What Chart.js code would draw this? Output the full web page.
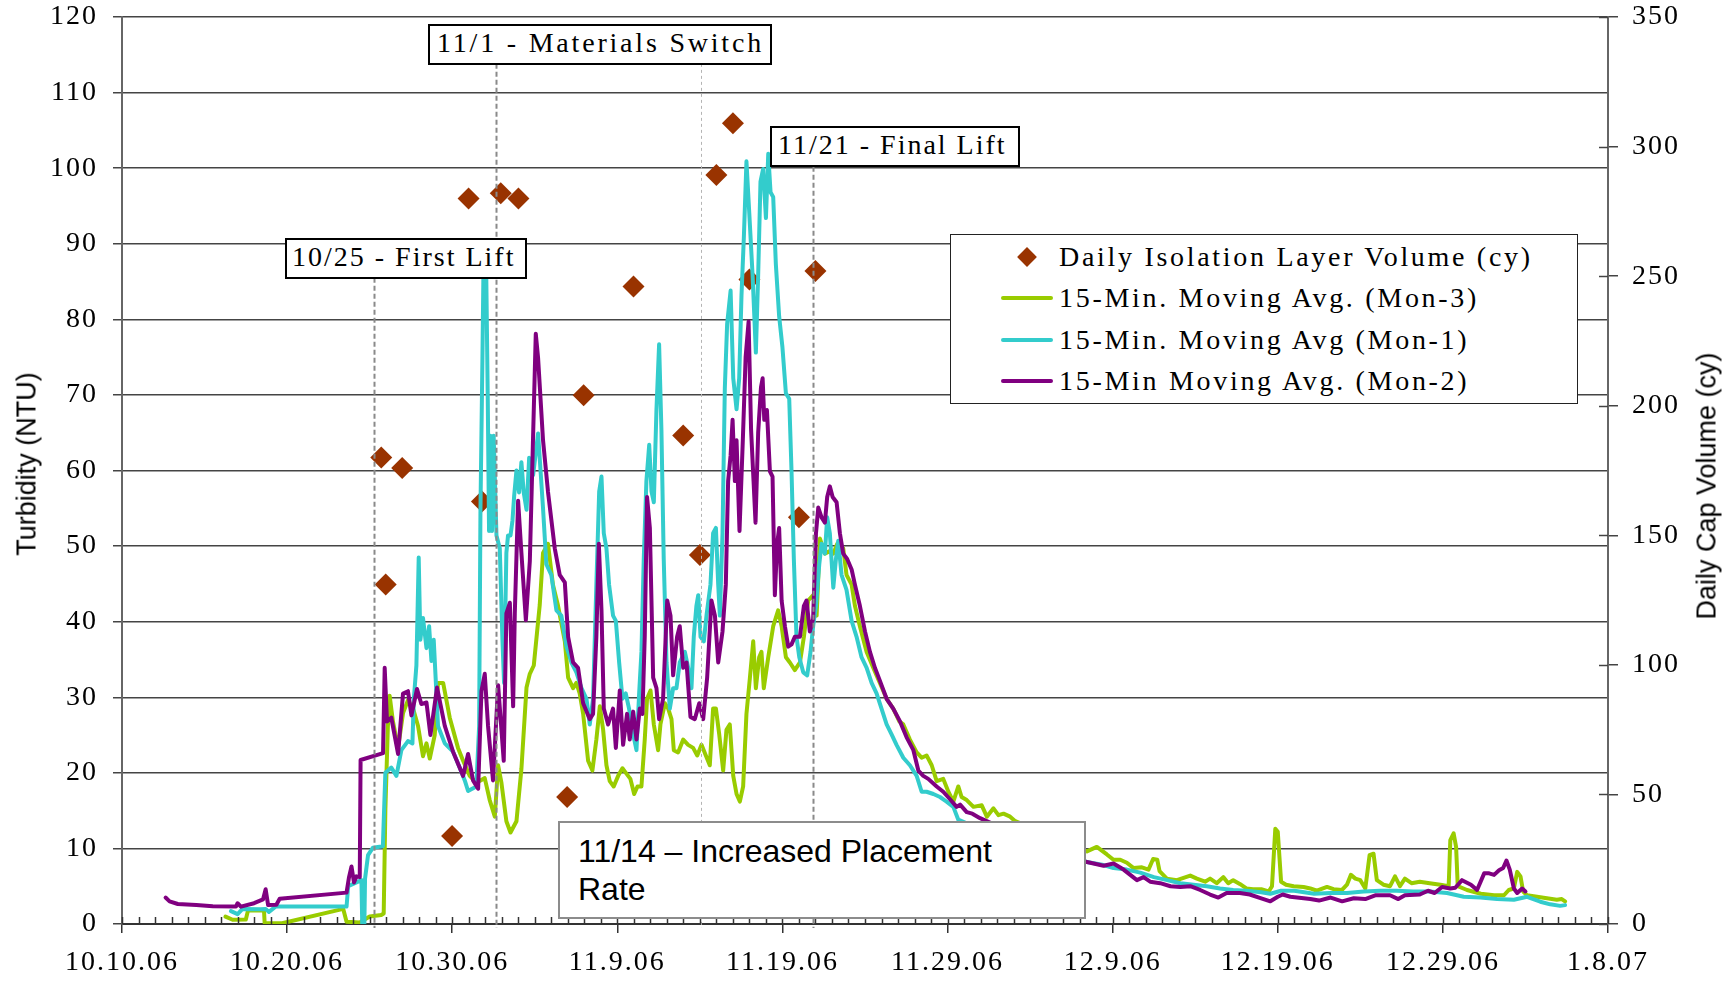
<!DOCTYPE html>
<html>
<head>
<meta charset="utf-8">
<script src="https://cdn.jsdelivr.net/npm/chart.js@4.4.1/dist/chart.umd.min.js"></script>
<style>
html,body{margin:0;padding:0;background:#fff;}
#wrap{position:relative;width:1734px;height:984px;overflow:hidden;background:#fff;}
#c{position:absolute;left:0;top:0;}
.serif{font-family:'Liberation Serif','Times New Roman',Times,serif;font-size:28px;letter-spacing:2px;color:#000;white-space:nowrap;}
.note{position:absolute;box-sizing:border-box;background:#fff;border:2px solid #000;height:41px;line-height:33px;padding-left:5px;}
#n4{position:absolute;box-sizing:border-box;left:558px;top:821px;width:528px;height:98px;background:#fff;border:2.5px solid #8c8c8c;font-family:'Liberation Sans',Arial,sans-serif;font-size:32px;line-height:38px;padding:9px 0 0 18px;color:#000;white-space:nowrap;}
#legend{position:absolute;box-sizing:border-box;left:950px;top:234px;width:628px;height:170px;background:#fff;border:1.5px solid #222;}
.lrow{position:absolute;left:0;height:40px;width:100%;}
.lsym{position:absolute;}
.ltxt{position:absolute;left:108px;top:0;line-height:40px;letter-spacing:2.7px;}
.ytitle{position:absolute;font-family:'Liberation Sans',Arial,sans-serif;font-size:27px;line-height:27px;white-space:nowrap;color:#000;transform:translate(-50%,-50%) rotate(-90deg);}
</style>
</head>
<body>
<div id="wrap">
<canvas id="c" width="1734" height="984"></canvas>
<div class="note serif" style="left:285px;top:238px;width:242px;">10/25 - First Lift</div>
<div class="note serif" style="left:428px;top:24px;width:344px;padding-left:7px;letter-spacing:2.8px;">11/1 - Materials Switch</div>
<div class="note serif" style="left:770px;top:126px;width:250px;padding-left:6px;">11/21 - Final Lift</div>
<div id="n4">11/14 – Increased Placement<br>Rate</div>
<div id="legend"></div>
<div class="ytitle" style="left:27px;top:464px;">Turbidity (NTU)</div>
<div class="ytitle" style="left:1707px;top:486px;">Daily Cap Volume (cy)</div>
</div>
<script>
// ---------- data ----------
const xTickLabels = ['10.10.06','10.20.06','10.30.06','11.9.06','11.19.06','11.29.06','12.9.06','12.19.06','12.29.06','1.8.07'];
const seriesNames = ['Daily Isolation Layer Volume (cy)','15-Min. Moving Avg. (Mon-3)','15-Min. Moving Avg (Mon-1)','15-Min Moving Avg. (Mon-2)'];

// x = days after 10/10/06, y = cubic yards (right axis)
const volume = [[15.70,180],[15.97,131],[16.97,176],[19.99,34],[20.99,280],[21.8,163],[22.94,282],[24.01,280],[26.96,49],[27.96,204],[30.98,246],[33.99,188.5],[35.0,142.4],[36.0,289],[37.0,309],[38.0,248.7],[41.0,157],[42.0,252]];

// x = days after 10/10/06, y = NTU (left axis)
const mon3 = [[6.27,0.97],[6.7,0.56],[7.5,0.6],[7.63,1.77],[8.6,1.77],[8.64,0.1],[9.7,0.1],[13.4,2.0],[13.6,0.3],[14.4,0.2],[15.0,1.0],[15.7,1.2],[15.85,1.4],[15.95,15],[16.1,26],[16.21,30.2],[16.41,26.8],[16.72,23.3],[17.02,27.9],[17.32,29.6],[17.63,28.5],[17.93,26.2],[18.23,22.2],[18.44,23.9],[18.64,21.9],[18.94,25.0],[19.14,31.9],[19.45,31.9],[19.85,27.3],[20.35,23.3],[20.66,21.6],[21.06,19.6],[21.46,18.7],[21.97,19.3],[22.27,16.4],[22.58,14.2],[22.78,21.0],[22.98,18.7],[23.28,13.6],[23.53,12.1],[23.89,13.6],[24.19,20.5],[24.5,31.3],[24.7,33.1],[24.94,34.2],[25.3,42.2],[25.5,49.1],[25.8,50.3],[26.1,44.9],[26.41,42.1],[26.82,37.4],[27.02,32.6],[27.32,31.2],[27.52,31.9],[27.72,30.5],[27.93,27.8],[28.23,21.6],[28.49,20.3],[28.73,24.4],[28.94,28.8],[29.14,25.7],[29.34,21.0],[29.54,18.9],[29.78,18.2],[30.05,19.6],[30.31,20.6],[30.55,19.9],[30.79,19.2],[31.02,17.2],[31.22,18.2],[31.46,18.2],[31.66,24.4],[31.8,29.8],[32.01,30.9],[32.21,26.4],[32.47,23.0],[32.61,26.4],[32.88,29.2],[33.08,28.5],[33.28,27.1],[33.42,23.0],[33.68,22.7],[33.99,24.4],[34.29,23.7],[34.59,23.3],[34.84,22.3],[35.1,23.7],[35.36,22.3],[35.6,21.0],[35.8,28.5],[35.97,28.5],[36.17,25.1],[36.41,20.3],[36.61,25.7],[36.81,26.4],[37.02,19.6],[37.22,17.2],[37.42,16.2],[37.62,18.2],[37.82,27.8],[38.03,32.6],[38.23,37.4],[38.39,31.2],[38.59,35.3],[38.73,36.0],[38.87,31.2],[39.14,35.3],[39.44,39.4],[39.74,41.5],[39.95,39.4],[40.21,35.3],[40.45,34.6],[40.75,33.6],[41.06,34.6],[41.3,38.0],[41.56,42.8],[41.86,43.5],[42.07,40.8],[42.27,51.0],[42.57,49.0],[42.83,49.3],[43.08,49.0],[43.32,50.3],[43.68,49.7],[43.88,46.2],[44.19,44.9],[44.39,42.1],[44.69,39.4],[45.1,36.0],[45.5,33.9],[45.9,31.9],[46.31,29.8],[46.71,28.5],[47.08,26.8],[47.32,26.4],[47.72,24.4],[48.13,22.7],[48.43,22.0],[48.73,22.3],[49.04,21.0],[49.34,18.9],[49.74,19.2],[50.05,17.5],[50.35,16.2],[50.65,18.2],[50.85,16.8],[51.16,16.4],[51.57,15.5],[52.07,15.7],[52.38,14.2],[52.78,15.3],[53.08,14.4],[53.39,14.6],[53.79,14.2],[54.1,13.6],[55.0,12.8],[56.0,11.8],[57.0,11.0],[58.0,10.0],[58.44,9.6],[59.04,10.2],[59.65,9.2],[60.05,8.5],[60.46,8.5],[60.86,8.1],[61.27,7.4],[61.77,7.5],[62.17,7.2],[62.45,8.6],[62.7,8.5],[62.84,7.0],[63.28,6.0],[63.89,5.8],[64.7,6.4],[65.1,6.0],[65.6,5.6],[65.9,6.0],[66.3,5.4],[66.7,6.2],[67.0,5.4],[67.3,5.8],[67.7,5.3],[68.1,4.7],[68.5,4.6],[69.0,4.6],[69.45,4.3],[69.65,5.0],[69.85,12.6],[70.0,12.2],[70.2,5.6],[70.5,5.2],[70.96,5.0],[71.56,4.9],[71.97,4.7],[72.37,4.4],[72.98,4.9],[73.38,4.6],[73.89,4.5],[74.19,5.2],[74.43,6.5],[74.7,6.0],[75.0,5.8],[75.3,4.7],[75.56,9.1],[75.8,9.3],[76.0,5.8],[76.4,5.2],[76.8,5.0],[77.1,6.3],[77.4,5.0],[77.7,6.0],[78.1,5.4],[78.6,5.6],[79.2,5.4],[79.85,5.2],[80.35,5.0],[80.45,11.1],[80.65,12.0],[80.8,10.2],[80.9,5.0],[81.46,4.5],[82.3,4.0],[83.1,3.8],[83.7,3.8],[83.99,4.5],[84.3,4.7],[84.5,6.9],[84.7,6.3],[84.86,4.3],[85.1,3.8],[85.7,3.6],[86.3,3.4],[86.9,3.2],[87.2,3.3],[87.4,3.0]];

const mon1 = [[6.6,1.7],[7.0,1.3],[7.3,2.0],[8.4,1.95],[8.7,2.0],[8.9,1.6],[9.3,2.3],[13.6,2.3],[13.7,5.0],[14.4,5.7],[14.5,5.8],[14.55,0],[14.68,0],[14.72,6.0],[14.9,9.1],[15.2,10.1],[15.8,10.3],[15.95,20.0],[16.31,20.7],[16.62,19.6],[16.92,23.0],[17.32,24.2],[17.59,23.9],[17.67,29.6],[17.83,34.2],[17.97,48.5],[18.07,37.6],[18.23,40.5],[18.44,36.5],[18.6,39.4],[18.74,34.8],[18.88,37.6],[19.14,26.2],[19.55,23.9],[20.05,22.8],[20.45,20.7],[20.76,19.0],[20.96,17.6],[21.46,18.2],[21.63,26.2],[21.71,54.8],[21.83,74.9],[21.9,88],[22.05,88],[22.15,70],[22.23,52.0],[22.31,64.6],[22.41,52.0],[22.51,64.6],[22.68,51.4],[22.88,49.7],[23.04,37.6],[23.14,31.9],[23.28,49.1],[23.38,51.4],[23.53,51.4],[23.65,53.4],[23.75,56.6],[23.89,60.0],[24.05,57.1],[24.19,61.1],[24.33,57.1],[24.5,54.8],[24.66,61.7],[24.9,59.4],[25.2,64.9],[25.5,55.0],[25.7,47.6],[26.0,46.2],[26.31,41.5],[26.61,40.8],[26.92,36.7],[27.22,34.6],[27.52,33.3],[27.83,31.2],[28.13,29.8],[28.33,26.4],[28.53,29.8],[28.73,44.9],[28.9,57.2],[29.04,59.2],[29.18,51.7],[29.34,49.7],[29.5,44.9],[29.74,40.8],[29.91,40.1],[30.11,34.6],[30.31,29.8],[30.51,30.5],[30.71,28.5],[30.96,25.1],[31.16,23.0],[31.32,30.5],[31.46,36.0],[31.6,48.3],[31.76,58.6],[31.93,63.4],[32.07,57.2],[32.21,55.8],[32.37,68.1],[32.53,76.7],[32.67,65.4],[32.81,48.3],[32.98,34.6],[33.18,28.5],[33.38,31.2],[33.58,31.2],[33.78,34.6],[34.09,36.0],[34.29,33.9],[34.49,31.2],[34.63,38.0],[34.79,42.1],[34.9,43.5],[35.04,38.0],[35.24,37.4],[35.4,40.8],[35.64,44.9],[35.8,51.7],[35.97,52.4],[36.11,44.9],[36.21,40.8],[36.37,51.7],[36.51,70.9],[36.65,79.4],[36.86,83.8],[37.02,72.2],[37.22,68.1],[37.38,72.2],[37.52,83.2],[37.66,90.7],[37.82,100.9],[37.99,94.1],[38.19,85.9],[38.39,75.6],[38.53,85.9],[38.67,98.2],[38.83,99.9],[39.0,93.4],[39.14,101.9],[39.28,96.8],[39.44,96.2],[39.6,87.3],[39.8,80.4],[40.0,76.3],[40.21,70.2],[40.41,69.5],[40.55,59.9],[40.69,48.3],[40.85,38.0],[41.02,35.3],[41.26,33.3],[41.5,32.9],[41.7,36.0],[41.86,39.4],[42.03,42.1],[42.23,47.6],[42.37,50.3],[42.57,49.0],[42.71,53.8],[42.87,51.7],[43.08,44.5],[43.24,48.3],[43.38,50.7],[43.58,46.2],[43.88,44.2],[44.19,40.1],[44.49,38.0],[44.79,35.3],[45.1,33.9],[45.4,31.9],[45.7,30.5],[46.0,28.5],[46.31,26.4],[46.61,25.1],[46.91,23.7],[47.32,22.0],[47.72,21.0],[48.13,19.6],[48.43,17.5],[48.73,17.5],[49.14,17.2],[49.54,16.8],[49.94,16.2],[50.35,15.5],[50.65,13.8],[52.0,12.5],[54.0,11.0],[56.0,9.6],[57.5,8.8],[58.44,8.2],[59.45,7.8],[60.05,7.4],[60.86,7.2],[61.67,6.8],[62.5,6.2],[63.3,5.8],[64.1,5.4],[64.9,5.2],[65.7,5.0],[66.5,4.7],[67.3,4.5],[68.1,4.4],[69.0,4.2],[69.55,4.0],[70.2,4.4],[71.0,4.4],[72.2,4.0],[73.2,4.1],[74.2,4.1],[75.2,4.3],[76.2,4.4],[77.2,4.4],[78.2,4.3],[79.2,4.3],[80.25,4.1],[81.26,3.6],[82.27,3.5],[83.28,3.3],[84.3,3.2],[85.1,3.6],[85.9,2.95],[86.5,2.6],[87.1,2.4],[87.4,2.5]];

const mon2 = [[2.64,3.5],[2.88,3.0],[3.38,2.65],[4.5,2.5],[5.5,2.35],[6.9,2.3],[7.0,2.75],[7.2,2.3],[8.0,2.75],[8.54,3.25],[8.7,4.6],[8.85,2.5],[9.35,2.55],[9.55,3.35],[13.6,4.15],[13.75,6.2],[13.9,7.6],[14.05,5.5],[14.2,6.3],[14.4,6.2],[14.45,21.7],[15.81,22.6],[15.91,33.9],[16.05,26.8],[16.31,27.3],[16.72,22.5],[17.02,30.5],[17.32,30.8],[17.53,27.6],[17.87,31.1],[18.13,29.1],[18.44,29.3],[18.68,25.0],[19.08,31.3],[19.55,26.2],[20.05,22.8],[20.66,19.6],[20.96,22.5],[21.26,19.0],[21.57,17.9],[21.77,30.8],[21.97,33.1],[22.17,26.2],[22.47,19.0],[22.78,31.6],[23.12,21.6],[23.28,41.1],[23.49,42.5],[23.69,28.8],[23.79,41.1],[23.99,56.0],[24.19,49.1],[24.46,40.2],[24.7,48.0],[25.06,78.1],[25.2,74.9],[25.5,64.0],[25.8,57.2],[26.21,49.7],[26.51,46.2],[26.82,45.2],[27.02,38.0],[27.32,34.6],[27.62,33.9],[27.93,29.2],[28.33,27.1],[28.53,27.8],[28.73,38.0],[28.88,50.3],[29.04,41.5],[29.18,28.5],[29.44,26.4],[29.74,28.5],[29.91,23.3],[30.15,30.9],[30.35,23.7],[30.59,27.8],[30.75,24.4],[30.96,28.1],[31.16,24.4],[31.36,28.5],[31.52,27.8],[31.66,38.0],[31.8,56.5],[31.97,52.4],[32.17,32.6],[32.37,31.2],[32.53,27.1],[32.77,29.8],[33.02,42.8],[33.22,40.8],[33.38,32.9],[33.62,38.0],[33.78,39.4],[33.99,33.9],[34.19,34.6],[34.43,27.4],[34.69,27.1],[34.96,29.2],[35.2,27.1],[35.44,32.6],[35.7,42.8],[35.91,40.8],[36.11,34.6],[36.37,38.7],[36.57,44.9],[36.71,58.6],[36.86,62.0],[36.98,66.7],[37.12,58.6],[37.22,64.0],[37.4,52],[37.6,64],[37.77,75],[37.95,79.7],[38.1,65.4],[38.25,58.6],[38.37,53.1],[38.53,65],[38.7,71],[38.8,72.2],[38.9,66.7],[39.06,68],[39.24,59.9],[39.4,59.2],[39.54,43.5],[39.68,50.3],[39.8,52.4],[39.95,42.8],[40.15,39.4],[40.35,36.7],[40.55,37.0],[40.75,38.0],[41.06,38.0],[41.3,42.1],[41.46,42.8],[41.66,38.7],[41.86,40.4],[42.03,51.7],[42.17,55.1],[42.37,53.8],[42.57,53.1],[42.71,56.5],[42.87,57.9],[43.04,56.5],[43.28,55.8],[43.48,51.7],[43.68,49.0],[43.92,48.3],[44.19,46.9],[44.39,44.9],[44.69,42.1],[45.0,38.7],[45.3,36.0],[45.6,33.9],[45.9,32.2],[46.31,29.8],[46.71,28.5],[47.12,26.8],[47.52,24.7],[47.93,23.0],[48.23,20.3],[48.53,19.6],[48.83,19.2],[49.34,18.2],[49.74,17.5],[50.15,16.5],[50.55,15.5],[50.76,15.8],[51.16,14.8],[51.5,14.6],[51.97,14.0],[53.5,12.5],[55.5,10.8],[57.5,9.0],[58.44,8.2],[59.45,7.7],[60.05,8.0],[60.66,7.2],[61.47,5.8],[61.87,6.2],[62.27,5.6],[62.88,5.4],[63.5,5.0],[64.1,4.9],[64.7,5.0],[65.3,4.5],[65.9,3.9],[66.4,3.5],[66.9,4.1],[67.7,4.1],[68.3,3.9],[69.0,3.4],[69.55,3.0],[70.0,3.6],[70.3,3.9],[70.76,3.6],[71.97,3.3],[72.5,3.1],[73.2,3.5],[73.9,3.0],[74.6,3.4],[75.3,3.3],[75.9,3.8],[76.8,3.8],[77.3,3.3],[77.7,3.8],[78.6,3.9],[79.1,4.4],[79.5,4.1],[79.95,4.9],[80.45,4.7],[80.75,4.8],[81.16,5.8],[81.7,5.2],[82.07,4.5],[82.5,6.7],[82.8,6.7],[83.1,6.5],[83.4,7.1],[83.65,7.4],[83.85,8.4],[84.05,7.2],[84.3,4.7],[84.5,4.1],[84.8,4.7],[85.0,4.3]];

// event marker lines: day and the NTU level where each line starts (under its label box)
const noteDays = [15.24, 22.67, 35.05, 41.87];
const noteTops = [85.5, 113.8, 113.8, 100.2];

// ---------- styles ----------
const colors = ['#993300', '#99CC00', '#33CCCC', '#800080'];
const noteStyles = [
  {color:'#8a8a8a', width:2, dash:[5,3]},
  {color:'#8a8a8a', width:2, dash:[5,3]},
  {color:'#b4b4b4', width:1, dash:[3,3]},
  {color:'#8a8a8a', width:2, dash:[5,3]}
];

Chart.defaults.font.family = "'Liberation Serif','Times New Roman',Times,serif";
Chart.defaults.font.size = 28;
Chart.defaults.color = '#000';

const toXY = arr => arr.map(p => ({x: p[0], y: p[1]}));

const spacing = {
  id: 'spacing',
  beforeDraw(chart) { chart.ctx.letterSpacing = '2px'; }
};

const extras = {
  id: 'extras',
  afterDatasetsDraw(chart) {
    const {ctx} = chart;
    const x = chart.scales.x, y = chart.scales.y, y2 = chart.scales.y2;
    ctx.save();
    noteDays.forEach((d, i) => {
      const s = noteStyles[i];
      const px = Math.round(x.getPixelForValue(d)) + 0.5;
      ctx.beginPath();
      ctx.setLineDash(s.dash);
      ctx.lineWidth = s.width;
      ctx.strokeStyle = s.color;
      ctx.moveTo(px, y.getPixelForValue(noteTops[i]));
      ctx.lineTo(px, y.getPixelForValue(0) + 4);
      ctx.stroke();
    });
    ctx.setLineDash([]);
    ctx.strokeStyle = '#333';
    ctx.lineWidth = 1.5;
    const yb = y.getPixelForValue(0);
    for (let d = 0; d <= 90; d++) {
      const px = Math.round(x.getPixelForValue(d)) + 0.5;
      ctx.beginPath(); ctx.moveTo(px, yb); ctx.lineTo(px, yb - 7); ctx.stroke();
    }
    const xr = x.getPixelForValue(90);
    ctx.strokeStyle = '#444';
    for (let v = 0; v <= 350; v += 50) {
      const py = Math.round(y2.getPixelForValue(v)) + 0.5;
      ctx.beginPath(); ctx.moveTo(xr - 9, py); ctx.lineTo(xr, py); ctx.stroke();
    }
    ctx.restore();
  }
};

const lineDs = (i, arr, order) => ({
  label: seriesNames[i], data: toXY(arr), yAxisID: 'y',
  borderColor: colors[i], backgroundColor: colors[i], borderWidth: 4,
  pointRadius: 0, pointHoverRadius: 0, tension: 0, fill: false,
  borderJoinStyle: 'round', borderCapStyle: 'round', order: order
});

const fitV = w => s => { s.width = w; s.paddingTop = 0; s.paddingBottom = 0; };

const chart = new Chart(document.getElementById('c'), {
  type: 'line',
  data: {
    datasets: [
      {label: seriesNames[0], data: toXY(volume), yAxisID: 'y2', showLine: false,
       pointStyle: 'rectRot', pointRadius: 11, pointHoverRadius: 11,
       backgroundColor: colors[0], borderColor: colors[0], borderWidth: 0, order: 4},
      lineDs(1, mon3, 3),
      lineDs(2, mon1, 2),
      lineDs(3, mon2, 1)
    ]
  },
  options: {
    responsive: false,
    animation: false,
    devicePixelRatio: 1,
    layout: {padding: {top: 17, left: 0, right: 0, bottom: 0}},
    plugins: {legend: {display: false}, tooltip: {enabled: false}},
    scales: {
      x: {
        type: 'linear', min: 0, max: 90,
        afterFit(s) { s.height = 60; s.paddingLeft = 0; s.paddingRight = 0; },
        ticks: {stepSize: 10, autoSkip: false, maxRotation: 0, padding: 13,
                callback: v => xTickLabels[Math.round(v / 10)]},
        grid: {drawOnChartArea: false, tickLength: 9, color: '#333', lineWidth: 1.5},
        border: {color: '#333', width: 2}
      },
      y: {
        position: 'left', min: 0, max: 120,
        afterFit: fitV(122),
        ticks: {stepSize: 10, padding: 15},
        grid: {color: '#444', lineWidth: 1.5, tickLength: 9},
        border: {color: '#666', width: 2}
      },
      y2: {
        position: 'right', min: 0, max: 350,
        afterFit: fitV(126),
        ticks: {stepSize: 50, padding: 14},
        grid: {drawOnChartArea: false, color: '#444', lineWidth: 1.5, tickLength: 10},
        border: {color: '#666', width: 2}
      }
    }
  },
  plugins: [spacing, extras]
});

// ---------- HTML legend built from the chart's datasets ----------
const legendEl = document.getElementById('legend');
const rowTops = [1.5, 43, 84.5, 126];
chart.data.datasets.forEach((ds, i) => {
  const row = document.createElement('div');
  row.className = 'lrow';
  row.style.top = rowTops[i] + 'px';
  const sym = document.createElement('div');
  sym.className = 'lsym';
  if (ds.showLine === false) {
    sym.style.cssText = 'left:68.5px;top:13px;width:14px;height:14px;transform:rotate(45deg);background:' + ds.backgroundColor + ';';
  } else {
    sym.style.cssText = 'left:49.5px;top:18px;width:52px;height:4px;border-radius:2px;background:' + ds.borderColor + ';';
  }
  const txt = document.createElement('div');
  txt.className = 'ltxt serif';
  txt.textContent = ds.label;
  row.appendChild(sym);
  row.appendChild(txt);
  legendEl.appendChild(row);
});
</script>
</body>
</html>
